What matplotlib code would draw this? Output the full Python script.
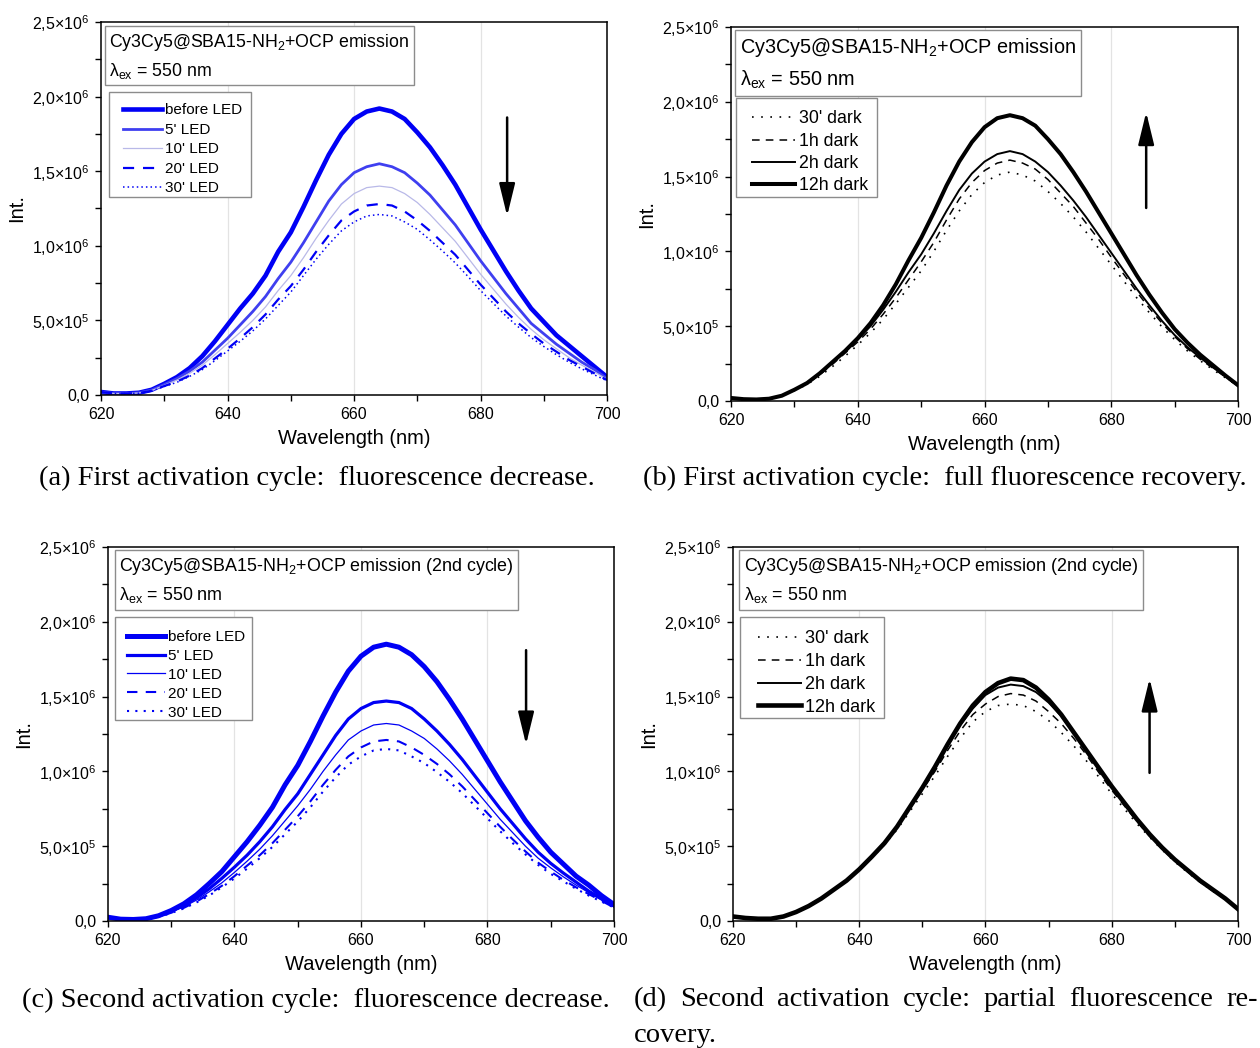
import numpy as np
import matplotlib
matplotlib.use("Agg")
import matplotlib.pyplot as plt
from matplotlib.patches import Rectangle
from matplotlib.ticker import FixedLocator, MultipleLocator

plt.rcParams["font.family"] = ["Liberation Sans", "DejaVu Sans"]
plt.rcParams["mathtext.fontset"] = "custom"
plt.rcParams["mathtext.rm"] = "Liberation Sans"
plt.rcParams["mathtext.default"] = "regular"

# ---- data (intensity in units of 1e6) -------------------------------------------------------
wl = list(range(620, 701, 2))

# (a) first cycle, LED illumination
a_before = [0.02, 0.01, 0.01, 0.015, 0.035, 0.075, 0.12, 0.18, 0.26, 0.36, 0.47, 0.58, 0.68, 0.80, 0.96, 1.09, 1.26,
            1.44, 1.61, 1.75, 1.85, 1.90, 1.92, 1.90, 1.85, 1.76, 1.66, 1.54, 1.41, 1.26, 1.11, 0.97, 0.83, 0.70,
            0.58, 0.49, 0.40, 0.33, 0.26, 0.19, 0.12]
a_5 = [0.02, 0.01, 0.01, 0.015, 0.033, 0.07, 0.11, 0.16, 0.22, 0.30, 0.38, 0.47, 0.56, 0.66, 0.78, 0.89, 1.02, 1.16,
       1.30, 1.41, 1.49, 1.53, 1.55, 1.53, 1.49, 1.42, 1.34, 1.24, 1.14, 1.02, 0.90, 0.79, 0.68, 0.58, 0.48, 0.41,
       0.34, 0.28, 0.22, 0.17, 0.11]
a_10 = [0.02, 0.01, 0.01, 0.014, 0.03, 0.065, 0.10, 0.145, 0.20, 0.27, 0.345, 0.42, 0.50, 0.59, 0.70, 0.80, 0.92,
        1.05, 1.17, 1.28, 1.35, 1.39, 1.40, 1.39, 1.35, 1.29, 1.21, 1.12, 1.03, 0.92, 0.81, 0.71, 0.61, 0.52, 0.44,
        0.37, 0.31, 0.25, 0.20, 0.155, 0.105]
a_20 = [0.02, 0.01, 0.01, 0.013, 0.028, 0.06, 0.09, 0.13, 0.18, 0.245, 0.31, 0.38, 0.455, 0.54, 0.64, 0.73, 0.84,
        0.96, 1.07, 1.17, 1.23, 1.27, 1.28, 1.27, 1.23, 1.17, 1.10, 1.02, 0.94, 0.84, 0.74, 0.65, 0.56, 0.48, 0.41,
        0.345, 0.29, 0.235, 0.19, 0.145, 0.10]
a_30 = [0.02, 0.01, 0.01, 0.012, 0.027, 0.057, 0.085, 0.125, 0.17, 0.23, 0.295, 0.36, 0.43, 0.51, 0.60, 0.69, 0.80,
        0.91, 1.01, 1.10, 1.16, 1.20, 1.21, 1.20, 1.16, 1.11, 1.04, 0.965, 0.885, 0.795, 0.70, 0.615, 0.53, 0.455,
        0.385, 0.325, 0.27, 0.22, 0.175, 0.135, 0.095]

# (b) first cycle, recovery in the dark
b_30 = [0.02, 0.012, 0.01, 0.014, 0.032, 0.07, 0.11, 0.165, 0.23, 0.30, 0.375, 0.455, 0.545, 0.65, 0.76, 0.87, 1.00,
        1.14, 1.27, 1.38, 1.46, 1.51, 1.53, 1.51, 1.47, 1.40, 1.32, 1.23, 1.13, 1.02, 0.91, 0.80, 0.69, 0.59, 0.495,
        0.41, 0.335, 0.27, 0.21, 0.155, 0.10]
b_1h = [0.02, 0.012, 0.01, 0.015, 0.034, 0.073, 0.115, 0.175, 0.245, 0.32, 0.395, 0.48, 0.58, 0.69, 0.81, 0.93, 1.06,
        1.21, 1.35, 1.46, 1.54, 1.59, 1.61, 1.59, 1.55, 1.48, 1.39, 1.30, 1.19, 1.08, 0.96, 0.845, 0.73, 0.62, 0.52,
        0.43, 0.35, 0.28, 0.22, 0.16, 0.10]
b_2h = [0.02, 0.012, 0.01, 0.015, 0.035, 0.075, 0.12, 0.18, 0.255, 0.33, 0.41, 0.50, 0.61, 0.73, 0.86, 0.98, 1.12,
        1.27, 1.41, 1.52, 1.60, 1.65, 1.67, 1.65, 1.60, 1.53, 1.44, 1.34, 1.23, 1.11, 0.99, 0.87, 0.75, 0.64, 0.535,
        0.44, 0.36, 0.29, 0.225, 0.165, 0.10]
b_12h = [0.02, 0.012, 0.01, 0.015, 0.035, 0.075, 0.12, 0.185, 0.26, 0.335, 0.42, 0.52, 0.64, 0.78, 0.94, 1.09, 1.26,
         1.44, 1.60, 1.73, 1.83, 1.89, 1.91, 1.89, 1.84, 1.75, 1.65, 1.53, 1.40, 1.26, 1.12, 0.98, 0.84, 0.71, 0.59,
         0.48, 0.39, 0.31, 0.24, 0.17, 0.105]

# (c) second cycle, LED illumination
c_before = [0.025, 0.012, 0.01, 0.015, 0.035, 0.07, 0.115, 0.175, 0.25, 0.33, 0.43, 0.53, 0.64, 0.76, 0.91, 1.04,
            1.20, 1.37, 1.53, 1.67, 1.77, 1.83, 1.85, 1.83, 1.78, 1.70, 1.60, 1.48, 1.35, 1.21, 1.07, 0.93, 0.80,
            0.67, 0.56, 0.46, 0.38, 0.30, 0.24, 0.17, 0.11]
c_5 = [0.025, 0.012, 0.01, 0.014, 0.032, 0.065, 0.105, 0.155, 0.215, 0.285, 0.36, 0.44, 0.53, 0.63, 0.745, 0.85, 0.98,
       1.11, 1.24, 1.35, 1.42, 1.46, 1.47, 1.46, 1.42, 1.35, 1.27, 1.18, 1.08, 0.97, 0.86, 0.75, 0.65, 0.55, 0.46,
       0.385, 0.32, 0.26, 0.20, 0.15, 0.10]
c_10 = [0.025, 0.012, 0.01, 0.013, 0.03, 0.06, 0.095, 0.14, 0.195, 0.255, 0.325, 0.40, 0.48, 0.57, 0.67, 0.77, 0.88,
        1.00, 1.11, 1.21, 1.27, 1.31, 1.32, 1.31, 1.27, 1.22, 1.15, 1.07, 0.98, 0.88, 0.78, 0.68, 0.59, 0.50, 0.42,
        0.355, 0.295, 0.24, 0.19, 0.14, 0.095]
c_20 = [0.025, 0.012, 0.01, 0.012, 0.028, 0.055, 0.088, 0.13, 0.18, 0.235, 0.30, 0.37, 0.44, 0.52, 0.61, 0.70, 0.80,
        0.91, 1.01, 1.10, 1.16, 1.20, 1.21, 1.20, 1.16, 1.11, 1.05, 0.98, 0.90, 0.81, 0.72, 0.63, 0.545, 0.465, 0.39,
        0.33, 0.275, 0.225, 0.18, 0.135, 0.09]
c_30 = [0.025, 0.012, 0.01, 0.012, 0.027, 0.053, 0.084, 0.124, 0.17, 0.225, 0.285, 0.35, 0.42, 0.495, 0.58, 0.665,
        0.76, 0.865, 0.96, 1.045, 1.10, 1.14, 1.15, 1.14, 1.10, 1.055, 0.995, 0.93, 0.855, 0.77, 0.685, 0.60, 0.52,
        0.445, 0.375, 0.315, 0.265, 0.215, 0.17, 0.13, 0.09]

# (d) second cycle, recovery in the dark
d_30 = [0.03, 0.02, 0.015, 0.015, 0.03, 0.06, 0.10, 0.15, 0.21, 0.27, 0.34, 0.42, 0.51, 0.61, 0.73, 0.85, 0.97, 1.10,
        1.22, 1.33, 1.40, 1.44, 1.45, 1.44, 1.40, 1.34, 1.26, 1.17, 1.07, 0.96, 0.85, 0.75, 0.65, 0.56, 0.475, 0.395,
        0.325, 0.26, 0.20, 0.145, 0.08]
d_1h = [0.03, 0.02, 0.015, 0.015, 0.03, 0.06, 0.10, 0.15, 0.21, 0.27, 0.345, 0.43, 0.52, 0.625, 0.75, 0.875, 1.00,
        1.14, 1.27, 1.38, 1.45, 1.50, 1.52, 1.51, 1.47, 1.40, 1.32, 1.22, 1.11, 0.99, 0.875, 0.77, 0.665, 0.565,
        0.48, 0.40, 0.33, 0.26, 0.20, 0.145, 0.08]
d_2h = [0.03, 0.02, 0.015, 0.015, 0.03, 0.06, 0.10, 0.15, 0.21, 0.27, 0.345, 0.43, 0.52, 0.63, 0.755, 0.885, 1.02,
        1.17, 1.31, 1.42, 1.51, 1.56, 1.58, 1.57, 1.53, 1.46, 1.37, 1.255, 1.135, 1.015, 0.895, 0.785, 0.675, 0.575,
        0.485, 0.405, 0.335, 0.265, 0.205, 0.15, 0.08]
d_12h = [0.03, 0.02, 0.015, 0.015, 0.03, 0.06, 0.10, 0.15, 0.21, 0.27, 0.345, 0.43, 0.52, 0.63, 0.76, 0.89, 1.03,
         1.18, 1.32, 1.44, 1.53, 1.59, 1.62, 1.61, 1.56, 1.48, 1.38, 1.26, 1.14, 1.02, 0.90, 0.79, 0.68, 0.58, 0.49,
         0.41, 0.34, 0.27, 0.21, 0.15, 0.08]

yticks = [0, 0.5, 1.0, 1.5, 2.0, 2.5]
yticklabels = ["0,0", "5,0×10$^5$", "1,0×10$^6$", "1,5×10$^6$", "2,0×10$^6$", "2,5×10$^6$"]
xticks = [620, 640, 660, 680, 700]

captions = ["(a) First activation cycle:  fluorescence decrease.",
            "(b) First activation cycle:  full fluorescence recovery.",
            "(c) Second activation cycle:  fluorescence decrease.",
            "(d) Second activation cycle:  partial fluorescence re-", "covery."]

BLUE = "#0000f5"
GRAY_EDGE = "#8c8c8c"


def style(ax):
    ax.set_xlim(620, 700); ax.set_ylim(0, 2.5e6)
    ax.xaxis.set_major_locator(FixedLocator(xticks)); ax.xaxis.set_minor_locator(MultipleLocator(10))
    ax.yaxis.set_major_locator(FixedLocator([v * 1e6 for v in yticks]))
    ax.yaxis.set_minor_locator(MultipleLocator(2.5e5))
    ax.set_yticklabels(yticklabels)
    ax.tick_params(which="both", direction="out", length=4.5, width=1, labelsize=11.5, pad=4, top=False, right=False)
    for s in ax.spines.values():
        s.set_linewidth(1.1)
    for g in (640, 660, 680):
        ax.axvline(g, color="#e3e3e3", lw=0.9, zorder=0)
    ax.set_xlabel("Wavelength (nm)", fontsize=14.5, labelpad=5)
    ax.set_ylabel("Int.", fontsize=14.5, labelpad=4)


def textbox(ax, title, fs, x, y):
    ax.text(x, y, title + "\n" + "λ$_{ex}$ = 550 nm", transform=ax.transAxes, va="top", ha="left", fontsize=fs,
            linespacing=1.55, zorder=5,
            bbox=dict(boxstyle="square,pad=0.25", fc="white", ec=GRAY_EDGE, lw=1.0))


def legend(ax, fs, x, y, hl, sp, box):
    # frame drawn separately so the padding can follow the original (wide left margin)
    x0, y0, x1, y1 = box
    ax.add_patch(Rectangle((x0, y0), x1 - x0, y1 - y0, transform=ax.transAxes, fc="white", ec=GRAY_EDGE,
                           lw=1.0, zorder=4.5))
    lg = ax.legend(loc="upper left", bbox_to_anchor=(x, y), borderaxespad=0, fontsize=fs, handlelength=hl,
                   handletextpad=0.22, labelspacing=sp, borderpad=0, frameon=False)
    lg.set_zorder(6)


def arrow(ax, x, y0, y1):
    ax.annotate("", xy=(x, y1 * 1e6), xytext=(x, y0 * 1e6),
                arrowprops=dict(arrowstyle="-|>,head_length=0.9,head_width=0.22", color="k", lw=1.8,
                                mutation_scale=22, shrinkA=0, shrinkB=0))


fig = plt.figure(figsize=(12.6, 10.48), dpi=100)
ax_a = fig.add_axes([0.0802, 0.6231, 0.4016, 0.3559])
ax_b = fig.add_axes([0.5802, 0.6174, 0.4024, 0.3569])
ax_c = fig.add_axes([0.0857, 0.1212, 0.4016, 0.3569])
ax_d = fig.add_axes([0.5817, 0.1212, 0.4008, 0.3569])

x = np.array(wl)
M = 1e6

# (a)
ax_a.plot(x, np.array(a_before) * M, color=BLUE, lw=3.3, label="before LED")
ax_a.plot(x, np.array(a_5) * M, color="#3f3ff0", lw=2.0, label="5' LED")
ax_a.plot(x, np.array(a_10) * M, color="#b9b9e8", lw=0.9, label="10' LED")
ax_a.plot(x, np.array(a_20) * M, color=BLUE, lw=1.6, ls=(0, (5, 4)), label="20' LED")
ax_a.plot(x, np.array(a_30) * M, color=BLUE, lw=1.1, ls=(0, (1, 2)), label="30' LED")
style(ax_a)
textbox(ax_a, "Cy3Cy5@SBA15-NH$_2$+OCP emission", 12.8, 0.0158, 0.9745)
legend(ax_a, 11, 0.0425, 0.7818, 2.55, 0.36, (0.0148, 0.5308, 0.2964, 0.8123))
arrow(ax_a, 684.2, 1.86, 1.2)

# (b)
ax_b.plot(x, np.array(b_30) * M, color="k", lw=1.2, ls=(0, (1, 4.5)), label="30' dark")
ax_b.plot(x, np.array(b_1h) * M, color="k", lw=1.1, ls=(0, (5, 4)), label="1h dark")
ax_b.plot(x, np.array(b_2h) * M, color="k", lw=1.4, label="2h dark")
ax_b.plot(x, np.array(b_12h) * M, color="k", lw=2.9, label="12h dark")
style(ax_b)
textbox(ax_b, "Cy3Cy5@SBA15-NH$_2$+OCP emission", 14.3, 0.0178, 0.976)
legend(ax_b, 12.8, 0.0414, 0.7767, 2.42, 0.3, (0.0099, 0.5455, 0.288, 0.8102))
arrow(ax_b, 685.5, 1.29, 1.93)

# (c)
ax_c.plot(x, np.array(c_before) * M, color=BLUE, lw=3.6, label="before LED")
ax_c.plot(x, np.array(c_5) * M, color=BLUE, lw=2.3, label="5' LED")
ax_c.plot(x, np.array(c_10) * M, color=BLUE, lw=0.9, label="10' LED")
ax_c.plot(x, np.array(c_20) * M, color=BLUE, lw=1.5, ls=(0, (5, 4)), label="20' LED")
ax_c.plot(x, np.array(c_30) * M, color=BLUE, lw=1.5, ls=(0, (1, 3)), label="30' LED")
style(ax_c)
textbox(ax_c, "Cy3Cy5@SBA15-NH$_2$+OCP emission (2nd cycle)", 12.85, 0.0217, 0.976)
legend(ax_c, 11, 0.0375, 0.778, 2.48, 0.32, (0.0138, 0.5374, 0.2846, 0.8128))
arrow(ax_c, 686.1, 1.81, 1.18)

# (d)
ax_d.plot(x, np.array(d_30) * M, color="k", lw=1.2, ls=(0, (1, 4.5)), label="30' dark")
ax_d.plot(x, np.array(d_1h) * M, color="k", lw=1.1, ls=(0, (5, 4)), label="1h dark")
ax_d.plot(x, np.array(d_2h) * M, color="k", lw=1.4, label="2h dark")
ax_d.plot(x, np.array(d_12h) * M, color="k", lw=3.3, label="12h dark")
style(ax_d)
textbox(ax_d, "Cy3Cy5@SBA15-NH$_2$+OCP emission (2nd cycle)", 12.85, 0.0218, 0.976)
legend(ax_d, 13, 0.0495, 0.7767, 2.39, 0.32, (0.0139, 0.5428, 0.299, 0.8128))
arrow(ax_d, 686, 0.99, 1.62)

# ---- captions -----------------------------------------------------------------------------
W, H = 1260, 1048
cap = dict(fontsize=20.5, family=["Liberation Serif", "DejaVu Serif"], va="center")
fig.text(317 / W, 1 - 478 / H, captions[0], ha="center", **cap)
fig.text(945 / W, 1 - 478 / H, captions[1], ha="center", **cap)
fig.text(316 / W, 1 - 1000 / H, captions[2], ha="center", **cap)

# justified two-line caption (d): spread the words of the first line between x=634 and x=1258
words = captions[3].split()
r = fig.canvas.get_renderer()
objs = [fig.text(0, 1 - 1000 / H, w, ha="left", **cap) for w in words]
widths = [o.get_window_extent(r).width for o in objs]
gap = (1258 - 634 - sum(widths)) / (len(words) - 1)
xpos = 634
for o, w in zip(objs, widths):
    o.set_x(xpos / W)
    xpos += w + gap
fig.text(634 / W, 1 - 1035 / H, captions[4], ha="left", **cap)

fig.savefig("out.png", dpi=100)
